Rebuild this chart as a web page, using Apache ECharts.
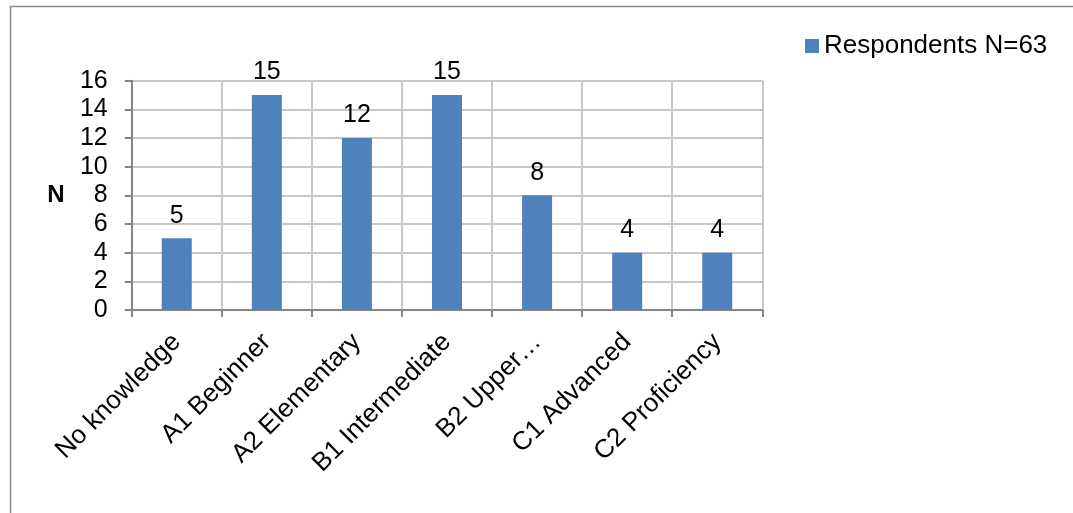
<!DOCTYPE html>
<html>
<head>
<meta charset="utf-8">
<script src="https://cdn.jsdelivr.net/npm/echarts@6/dist/echarts.min.js"></script>
<style>
  html, body { margin: 0; padding: 0; background: #fff; }
  #chart { width: 1073px; height: 513px; }
</style>
</head>
<body>
<div id="chart"></div>
<script>
// Language level of respondents
const categories = ['No knowledge', 'A1 Beginner', 'A2 Elementary', 'B1 Intermediate', 'B2 Upper…', 'C1 Advanced', 'C2 Proficiency'];
const respondents = [5, 15, 12, 15, 8, 4, 4];
const seriesName = 'Respondents N=63';
const yAxisName = 'N';

const FONT = '"Liberation Sans", Arial, sans-serif';
const chart = echarts.init(document.getElementById('chart'), null, { renderer: 'canvas' });

chart.setOption({
  animation: false,
  backgroundColor: '#ffffff',
  textStyle: { fontFamily: FONT },
  graphic: [{
    type: 'rect',
    silent: true,
    shape: { x: 10.5, y: 6.5, width: 1200, height: 700 },
    style: { fill: 'none', stroke: '#898989', lineWidth: 1.5 }
  }],
  legend: {
    show: true,
    left: 805,
    top: 33,
    padding: 0,
    itemWidth: 14,
    itemHeight: 14,
    itemGap: 6,
    icon: 'rect',
    textStyle: { fontFamily: FONT, fontSize: 26, color: '#000' },
    data: [seriesName]
  },
  grid: { left: 131.7, right: 310.7, top: 80.7, bottom: 203, containLabel: false },
  xAxis: {
    type: 'category',
    data: categories,
    boundaryGap: true,
    axisLine: { lineStyle: { color: '#868686', width: 2 } },
    axisTick: { show: true, length: 7, lineStyle: { color: '#868686', width: 2 } },
    splitLine: { show: true, lineStyle: { color: '#c8c8c8', width: 2 } },
    axisLabel: {
      interval: 0,
      rotate: 45,
      margin: 28,
      fontFamily: FONT,
      fontSize: 26,
      color: '#000'
    }
  },
  yAxis: {
    type: 'value',
    min: 0,
    max: 16,
    interval: 2,
    name: yAxisName,
    nameLocation: 'middle',
    nameRotate: 0,
    nameGap: 67,
    nameTextStyle: { fontFamily: FONT, fontSize: 24, fontWeight: 'bold', color: '#000' },
    axisLine: { show: true, lineStyle: { color: '#868686', width: 2 } },
    axisTick: { show: true, length: 7, lineStyle: { color: '#868686', width: 2 } },
    splitLine: { show: true, lineStyle: { color: '#c8c8c8', width: 2 } },
    axisLabel: { fontFamily: FONT, fontSize: 25, color: '#000', margin: 24 }
  },
  series: [{
    name: seriesName,
    type: 'bar',
    data: respondents,
    barWidth: 30,
    itemStyle: { color: '#4f81bd' },
    label: {
      show: true,
      position: 'top',
      distance: 10,
      fontFamily: FONT,
      fontSize: 25,
      color: '#000'
    }
  }]
});
</script>
</body>
</html>
